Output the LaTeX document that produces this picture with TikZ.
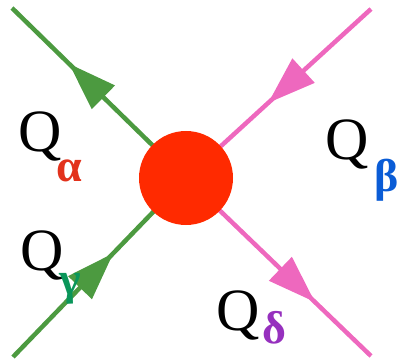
\documentclass[tikz,border=0pt]{standalone}
\usepackage{fontspec}
\setmainfont{Liberation Serif}
\usetikzlibrary{arrows.meta,decorations.markings}
\definecolor{lgreen}{RGB}{76,154,64}
\definecolor{lpink}{RGB}{238,104,190}
\definecolor{blobred}{RGB}{255,42,0}
\definecolor{cal}{RGB}{226,50,28}
\definecolor{cbe}{RGB}{10,92,214}
\definecolor{cga}{RGB}{10,150,90}
\definecolor{cde}{RGB}{150,48,190}
\tikzset{
  leg/.style={line width=4.5pt},
  tipat/.style={postaction={decorate},decoration={markings,
     mark=at position #1 with {\arrow{Triangle[length=48pt,width=32pt]}}}},
  qlab/.style={inner sep=0pt,anchor=base west,font=\fontsize{60}{60}\selectfont},
  sub/.style={inner sep=0pt,anchor=base west,font=\fontsize{46}{46}\selectfont\bfseries},
  blob/.style={circle,fill=blobred,minimum size=94pt,inner sep=0pt}
}
\begin{document}
\begin{tikzpicture}[x=1pt,y=-1pt]
\useasboundingbox (0,0) rectangle (397,361);
\coordinate (c) at (186,178);
\coordinate (a) at (12,8);
\coordinate (b) at (13,357);
\coordinate (d) at (371,9);
\coordinate (e) at (371,356);
\draw[leg,lgreen,tipat=0.672] (c) -- (a);
\draw[leg,lgreen,tipat=0.58] (b) -- (c);
\draw[leg,lpink,tipat=0.556] (d) -- (c);
\draw[leg,lpink,tipat=0.697] (c) -- (e);
\node[blob] (v) at (c) {};
\node[qlab] (qa) at (18,152) {Q};
\node[sub,text=cal] (sa) at (56,182) {α};
\node[qlab] (qb) at (325,160) {Q};
\node[sub,text=cbe] (sb) at (374,192) {β};
\node[qlab] (qg) at (20,270) {Q};
\node[sub,text=cga] (sg) at (59,294) {γ};
\node[qlab] (qd) at (216,330) {Q};
\node[sub,text=cde] (sd) at (262,343) {δ};
\end{tikzpicture}
\end{document}
